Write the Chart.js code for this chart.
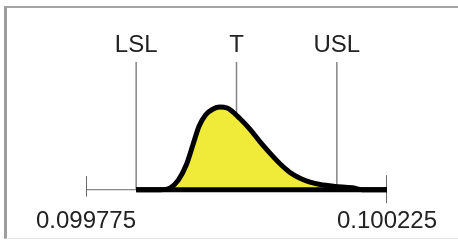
<!doctype html>
<html>
<head>
<script src="https://cdn.jsdelivr.net/npm/chart.js@4"></script>
<style>
  body { margin: 0; background: #fff; }
  #frame { position: absolute; left: 4px; top: 6px; width: 480px; height: 230px;
           border-left: 3px solid #9e9e9e; border-top: 2px solid #a4a4a4; border-bottom: 1px solid #e6e6e6; }
  #wrap { position: absolute; left: 0; top: 0; width: 458px; height: 243px; }
</style>
<script>
  // axis ends and their labels
  const axisEnds = [0.099775, 0.100225];
  const axisLabels = ['0.099775', '0.100225'];

  // spec limits
  const specNames = ['LSL', 'T', 'USL'];
  const specValues = [0.09985, 0.1, 0.10015];
  const specFrom = [0, 78, 3.5];   // where each spec line meets the curve
  const specTop = 133;

  // distribution curve (relative density)
  const curveX = [0.09985, 0.099886, 0.099901, 0.099913, 0.099925, 0.099935, 0.099944, 0.099954,
                  0.099965, 0.099975, 0.099986, 0.100005, 0.10002, 0.100035, 0.10005, 0.100065,
                  0.10008, 0.100095, 0.10011, 0.100125, 0.100147, 0.100173, 0.100188, 0.100225];
  const curveY = [0, 0, 2, 10, 26, 47, 66, 78,
                  84, 86, 85, 74, 63, 50, 38, 27,
                  18, 12, 8, 5.5, 3.5, 2, 0, 0];

  function startPage() {
    const pts = curveX.map((x, i) => ({x: x, y: curveY[i]}));
    const sets = [];
    sets.push({ data: [{x: specValues[0], y: 0}, {x: axisEnds[1], y: 0}],
                borderColor: '#000', borderWidth: 5, order: 0 });
    sets.push({ data: pts, borderColor: '#000', borderWidth: 5, fill: 'origin',
                backgroundColor: '#f0ea38', cubicInterpolationMode: 'monotone',
                borderJoinStyle: 'round', order: 1 });
    specValues.forEach((v, i) => {
      sets.push({ data: [{x: v, y: specFrom[i]}, {x: v, y: specTop}],
                  borderColor: '#858585', borderWidth: 1.5, order: 2 });
    });
    sets.push({ data: [{x: axisEnds[0], y: 0}, {x: axisEnds[1], y: 0}],
                borderColor: '#6a6a6a', borderWidth: 1, order: 3 });
    sets.push({ data: [{x: axisEnds[0], y: 14}, {x: axisEnds[0], y: -7}],
                borderColor: '#555', borderWidth: 1, order: 3 });
    sets.push({ data: [{x: axisEnds[1], y: 15}, {x: axisEnds[1], y: -14}],
                borderColor: '#555', borderWidth: 1, order: 3 });

    new Chart(document.getElementById('c1'), {
      type: 'line',
      data: { datasets: sets },
      options: {
        responsive: false,
        animation: false,
        events: [],
        elements: { point: { radius: 0 } },
        layout: { padding: { left: 86, right: 71, top: 29, bottom: 3 } },
        plugins: { legend: { display: false }, tooltip: { enabled: false } },
        scales: {
          x: {
            type: 'linear', position: 'bottom',
            min: axisEnds[0], max: axisEnds[1],
            grid: { display: false, drawTicks: false }, border: { display: false },
            afterBuildTicks: a => { a.ticks = axisEnds.map(v => ({value: v})); },
            ticks: { autoSkip: false, maxRotation: 0, padding: 4, color: '#222',
                     font: { family: 'Liberation Sans', size: 24 },
                     callback: (v, i) => axisLabels[i] }
          },
          x2: {
            type: 'linear', position: 'top',
            min: axisEnds[0], max: axisEnds[1],
            grid: { display: false, drawTicks: false }, border: { display: false },
            afterBuildTicks: a => { a.ticks = specValues.map(v => ({value: v})); },
            ticks: { autoSkip: false, maxRotation: 0, padding: 2, color: '#222',
                     font: { family: 'Liberation Sans', size: 24 },
                     callback: (v, i) => specNames[i] }
          },
          y: { display: false, min: -14, max: 133 }
        }
      }
    });
  }
</script>
</head>
<body onload="startPage()">
  <div id="frame"></div>
  <div id="wrap"><canvas id="c1" width="458" height="243"></canvas></div>
</body>
</html>
